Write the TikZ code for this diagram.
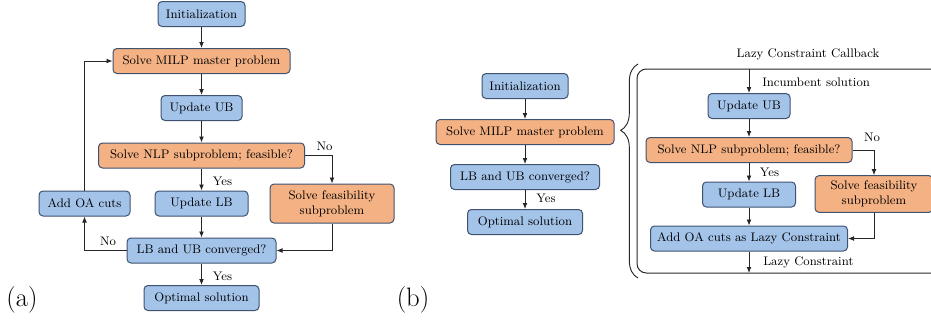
\documentclass[tikz,border=0pt]{standalone}
\usepackage{fontspec}
\usetikzlibrary{arrows.meta,decorations.pathreplacing}
\definecolor{boxblue}{HTML}{A3C3E9}
\definecolor{boxorange}{HTML}{F4B183}
\definecolor{boxedge}{HTML}{3F5270}
\definecolor{lineclr}{HTML}{262626}
\begin{document}
\begin{tikzpicture}[x=0.75pt,y=-0.75pt,font=\rmfamily\fontsize{9.3}{11.5}\selectfont,
  bx/.style={draw=boxedge,line width=0.75pt,rounded corners=3pt,minimum height=18.75pt,inner sep=0pt,align=center},
  bluebox/.style={bx,fill=boxblue},
  orangebox/.style={bx,fill=boxorange},
  arr/.style={-{Latex[length=4.5pt,width=3.6pt]},line width=0.6pt,draw=lineclr},
  lbl/.style={inner sep=0pt},
  panel/.style={inner sep=0pt,font=\rmfamily\fontsize{20}{24}\selectfont}]
\useasboundingbox (0,0) rectangle (931,325);
\clip (0,0) rectangle (931,325);

% ---------------- panel (a) ----------------
\node[bluebox,minimum width=65.25pt] (ainit) at (201.5,14) {Initialization};
\node[orangebox,minimum width=132.75pt] (amilp) at (201.5,61) {Solve MILP master problem};
\node[bluebox,minimum width=60.75pt] (aub) at (201.5,108) {Update UB};
\node[orangebox,minimum width=154.5pt] (anlp) at (201.5,155.5) {Solve NLP subproblem; feasible?};
\node[bluebox,minimum width=69.75pt] (alb) at (201.5,203.5) {Update LB};
\node[bluebox,minimum width=68.25pt] (aoa) at (84.5,203.5) {Add OA cuts};
\node[orangebox,minimum width=93pt,minimum height=29.25pt] (afeas) at (332,203.5) {Solve feasibility\\subproblem};
\node[bluebox,minimum width=111.75pt] (aconv) at (201.5,250.5) {LB and UB converged?};
\node[bluebox,minimum width=86.25pt] (aopt) at (201.5,298) {Optimal solution};

\draw[arr] (ainit) -- (amilp);
\draw[arr] (amilp) -- (aub);
\draw[arr] (aub) -- (anlp);
\draw[arr] (anlp) -- (alb);
\draw[arr] (alb) -- (aconv);
\draw[arr] (aconv) -- (aopt);
\draw[arr] (anlp.east) -| (afeas.north);
\draw[arr] (afeas.south) |- (aconv.east);
\draw[arr] (aconv.west) -| (aoa.south);
\draw[arr] (aoa.north) |- (amilp.west);

\node[lbl] (ano1) at (324.5,146) {No};
\node[lbl] (ayes1) at (222.5,181) {Yes};
\node[lbl] (ano2) at (108,241) {No};
\node[lbl] (ayes2) at (222.5,276) {Yes};
\node[panel] (pa) at (22,300) {(a)};

% ---------------- panel (b) ----------------
\node[bluebox,minimum width=64.5pt] (binit) at (525,86) {Initialization};
\node[orangebox,minimum width=133.5pt] (bmilp) at (525,132) {Solve MILP master problem};
\node[bluebox,minimum width=111.75pt] (bconv) at (525,177) {LB and UB converged?};
\node[bluebox,minimum width=86.25pt] (bopt) at (525,222) {Optimal solution};
\draw[arr] (binit) -- (bmilp);
\draw[arr] (bmilp) -- (bconv);
\draw[arr] (bconv) -- (bopt);
\node[lbl] (byes) at (546,198) {Yes};
\node[panel] (pb) at (413,300) {(b)};

% brace and callback frame
\draw[line width=0.7pt,draw=lineclr,decorate,decoration={brace,amplitude=13pt,aspect=0.69}] (638,278) -- (638,64);
\draw[line width=0.75pt,draw=lineclr,rounded corners=7pt] (950,69) -- (637,69) -- (637,273) -- (950,273);
\node[lbl] (cbtitle) at (808,54) {Lazy Constraint Callback};
\coordinate (cbtop) at (749,69);
\coordinate (cbbot) at (749,273);

\node[bluebox,minimum width=61.5pt] (rub) at (749,106) {Update UB};
\node[orangebox,minimum width=154.5pt] (rnlp) at (749,150) {Solve NLP subproblem; feasible?};
\node[bluebox,minimum width=69.75pt] (rlb) at (749,194.5) {Update LB};
\node[orangebox,minimum width=88.5pt,minimum height=27.5pt] (rfeas) at (874,194) {Solve feasibility\\subproblem};
\node[bluebox,minimum width=147.75pt] (roa) at (749,238.5) {Add OA cuts as Lazy Constraint};

\draw[arr] (cbtop) -- (rub);
\draw[arr] (rub) -- (rnlp);
\draw[arr] (rnlp) -- (rlb);
\draw[arr] (rlb) -- (roa);
\draw[arr] (roa) -- (cbbot);
\draw[arr] (rnlp.east) -| (rfeas.north);
\draw[arr] (rfeas.south) |- (roa.east);

\node[lbl,anchor=west] (rinc) at (762,82) {Incumbent solution};
\node[lbl] (rno) at (872,137) {No};
\node[lbl] (ryes) at (769.5,172) {Yes};
\node[lbl,anchor=west] (rlazy) at (763,262) {Lazy Constraint};
\end{tikzpicture}
\end{document}
